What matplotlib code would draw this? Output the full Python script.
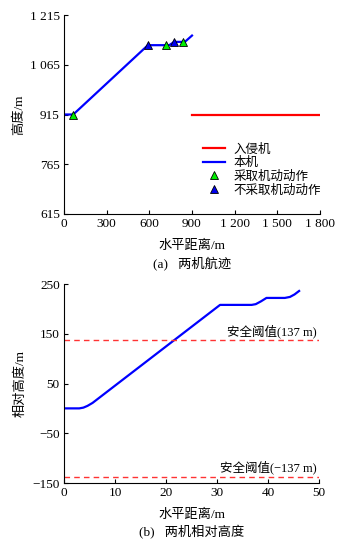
import matplotlib
matplotlib.use("Agg")
import matplotlib.pyplot as plt

plt.rcParams['font.family'] = ['Liberation Serif', 'Noto Sans CJK SC']

# ---- (a) trajectories ----
own_x = [0, 65, 590, 740, 775, 850, 900]
own_y = [915, 915, 1124, 1124, 1134, 1134, 1153]
intr_x = [900, 1800]
intr_y = [915, 915]
act_x = [60, 715, 837]
act_y = [915, 1124, 1134]
noact_x = [593, 776]
noact_y = [1124, 1134]
a_xticks = [0, 300, 600, 900, 1200, 1500, 1800]
a_xlabels = ['0', '300', '600', '900', '1 200', '1 500', '1 800']
a_yticks = [615, 765, 915, 1065, 1215]
a_ylabels = ['615', '765', '915', '1 065', '1 215']

# ---- (b) relative height ----
rel_x = [0, 3.0, 3.8, 4.6, 5.6, 30.6, 36.8, 37.6, 38.6, 39.7, 43.3, 44.3, 45.2, 46.1]
rel_y = [0, 0, 1.5, 5, 11, 208, 208, 209.5, 215, 222, 222, 224, 229, 236]
safe = 137
b_xticks = [0, 10, 20, 30, 40, 50]
b_yticks = [-150, -50, 50, 150, 250]
b_ylabels = ['\u2212150', '\u221250', '50', '150', '250']

fig = plt.figure(figsize=(3.41, 5.47), dpi=100)
fs = 9.5

def style(ax):
    for s in ['top', 'right']:
        ax.spines[s].set_visible(False)
    for s in ['left', 'bottom']:
        ax.spines[s].set_linewidth(0.8)
    ax.tick_params(direction='in', length=3, width=0.8, labelsize=fs, pad=3)

ax1 = fig.add_axes([64/341, 1-214/547, 256/341, 199/547])
style(ax1)
ax1.plot(intr_x, intr_y, color='#ff0000', lw=1.6, label='入侵机')
ax1.plot(own_x, own_y, color='#0000ff', lw=1.6, label='本机')
ax1.plot(act_x, act_y, ls='none', marker='^', ms=6, mfc='#00ee00', mec='black', mew=0.6, label='采取机动动作')
ax1.plot(noact_x, noact_y, ls='none', marker='^', ms=6, mfc='#0000ee', mec='black', mew=0.6, label='不采取机动动作')
ax1.set_xlim(0, 1800)
ax1.set_ylim(615, 1215)
ax1.set_xticks(a_xticks, a_xlabels)
ax1.set_yticks(a_yticks, a_ylabels)
ax1.set_xlabel('水平距离/m', fontsize=fs, labelpad=7)
ax1.set_ylabel('高度/m', fontsize=fs, labelpad=3)
ax1.legend(loc='upper left', bbox_to_anchor=(0.52, 0.385), frameon=False, fontsize=9,
           handlelength=1.75, handletextpad=0.65, labelspacing=0.12, borderpad=0)
fig.text(192/341, 1-263/547, '(a)   两机航迹', fontsize=fs, ha='center', va='center')

ax2 = fig.add_axes([64/341, 1-483/547, 255/341, 199/547])
style(ax2)
ax2.plot(rel_x, rel_y, color='#0000ff', lw=1.6)
ax2.axhline(safe, color='#ff3333', ls=(0, (4, 3)), lw=1.0)
ax2.axhline(-safe, color='#ff3333', ls=(0, (4, 3)), lw=1.0)
ax2.text(49.5, safe + 4, '安全阈值(137 m)', fontsize=9, ha='right', va='bottom')
ax2.text(49.5, -safe + 4, '安全阈值(\u2212137 m)', fontsize=9, ha='right', va='bottom')
ax2.set_xlim(0, 50)
ax2.set_ylim(-150, 250)
ax2.set_xticks(b_xticks)
ax2.set_yticks(b_yticks, b_ylabels)
ax2.set_xlabel('水平距离/m', fontsize=fs, labelpad=7)
ax2.set_ylabel('相对高度/m', fontsize=fs, labelpad=4)
fig.text(192/341, 1-532/547, '(b)   两机相对高度', fontsize=fs, ha='center', va='center')

fig.savefig('out.png', dpi=100)
